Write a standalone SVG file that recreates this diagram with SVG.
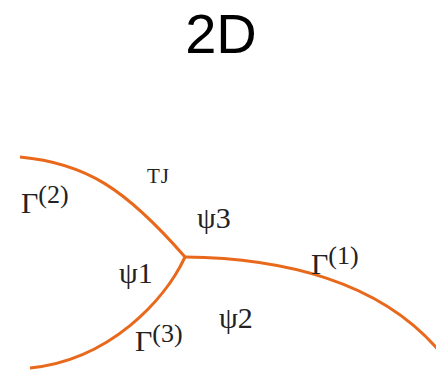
<svg xmlns="http://www.w3.org/2000/svg" width="436" height="370" viewBox="0 0 436 370">
<style>
.b{fill:none;stroke:#E8691C;stroke-width:3;stroke-linecap:butt;stroke-linejoin:round}
.t{font-family:"Liberation Serif","Times New Roman",serif;fill:#222}
.g{font-size:30px}
.s{font-size:26px}
.p{font-size:30px}
</style>
<rect width="436" height="370" fill="#fff"/>
<text x="221" y="53" text-anchor="middle" font-family="Liberation Sans, Arial, sans-serif" font-size="56" fill="#000">2D</text>
<g id="connectors">
<path class="b" d="M 20 157 C 85 163 125 188 185 257"/>
<path class="b" d="M 185 257 C 165 300 110 360 30 368"/>
<path class="b" d="M 185 257 C 280 258 380 280 440 352"/>
</g>
<g id="gamma2"><text class="t g" x="21" y="213">Γ<tspan class="s" dy="-10">(2)</tspan></text></g>
<g id="gamma1"><text class="t g" x="311" y="274">Γ<tspan class="s" dy="-10">(1)</tspan></text></g>
<g id="gamma3"><text class="t g" x="135" y="351">Γ<tspan class="s" dy="-9">(3)</tspan></text></g>
<g id="tj"><text class="t" x="147" y="183" font-size="21" letter-spacing="1">TJ</text></g>
<g id="psi1"><text class="t p" x="119" y="283">ψ1</text></g>
<g id="psi3"><text class="t p" x="197" y="228">ψ3</text></g>
<g id="psi2"><text class="t p" x="219" y="328">ψ2</text></g>
</svg>
